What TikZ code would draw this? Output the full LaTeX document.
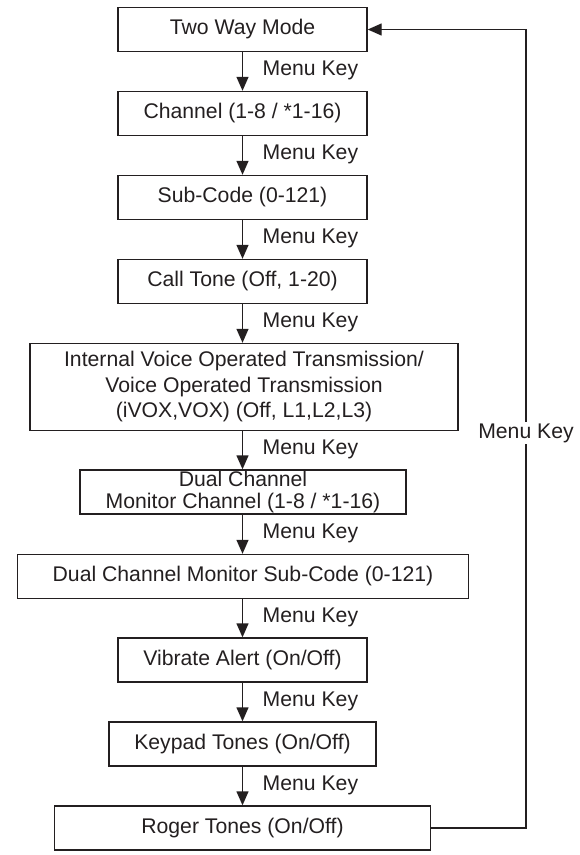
\documentclass[tikz,border=0pt]{standalone}
\usepackage{fontspec}
\setmainfont{Liberation Sans}
\usetikzlibrary{arrows.meta}
\definecolor{ink}{HTML}{231F20}
\begin{document}
\begin{tikzpicture}[x=1pt,y=-1pt,
  box/.style={draw=ink,line width=1.4pt,rectangle,minimum height=44pt,inner sep=0pt,align=center,text=ink,font=\fontsize{21.2}{25.5}\selectfont},
  lbl/.style={anchor=west,inner sep=0pt,text=ink,font=\fontsize{21.2}{25.5}\selectfont},
  flow/.style={draw=ink,line width=1.4pt,-{Triangle[length=14pt,width=12pt]}}]
\useasboundingbox (0,0) rectangle (580,855);
\node[box,minimum width=249pt] (b1) at (242.5,29.5) {Two Way Mode};
\node[box,minimum width=249pt] (b2) at (242.5,113.5) {Channel (1-8 / *1-16)};
\node[box,minimum width=249pt] (b3) at (242.5,197.5) {Sub-Code (0-121)};
\node[box,minimum width=249pt] (b4) at (242.5,281.5) {Call Tone (Off, 1-20)};
\node[box,minimum width=428pt,minimum height=87pt] (b5) at (244,387) {Internal Voice Operated Transmission/\\Voice Operated Transmission\\(iVOX,VOX) (Off, L1,L2,L3)};
\node[box,minimum width=326pt,font=\fontsize{21.2}{22.5}\selectfont] (b6) at (243,492) {Dual Channel\\Monitor Channel (1-8 / *1-16)};
\node[box,minimum width=451pt] (b7) at (243,576.5) {Dual Channel Monitor Sub-Code (0-121)};
\node[box,minimum width=249pt] (b8) at (242.5,660) {Vibrate Alert (On/Off)};
\node[box,minimum width=267pt] (b9) at (242.5,744) {Keypad Tones (On/Off)};
\node[box,minimum width=376pt] (b10) at (242.5,828) {Roger Tones (On/Off)};
\foreach \a/\b in {b1/b2,b2/b3,b3/b4,b4/b5,b5/b6,b6/b7,b7/b8,b8/b9,b9/b10}{
  \draw[flow] (b1.south |- \a.south) -- (b1.south |- \b.north);
  \path (b1.south |- \a.south) -- (b1.south |- \b.north) node[midway] (m\a) {};
  \node[lbl] at ([xshift=20pt,yshift=1pt]m\a) {Menu Key};
}
\coordinate (cr) at (526,828);
\draw[flow] (b10.east) -- (cr) |- (b1.east);
\node[fill=white,inner sep=2pt,text=ink,font=\fontsize{21.2}{25.5}\selectfont] (fk) at (526,433) {Menu Key};
\end{tikzpicture}
\end{document}
